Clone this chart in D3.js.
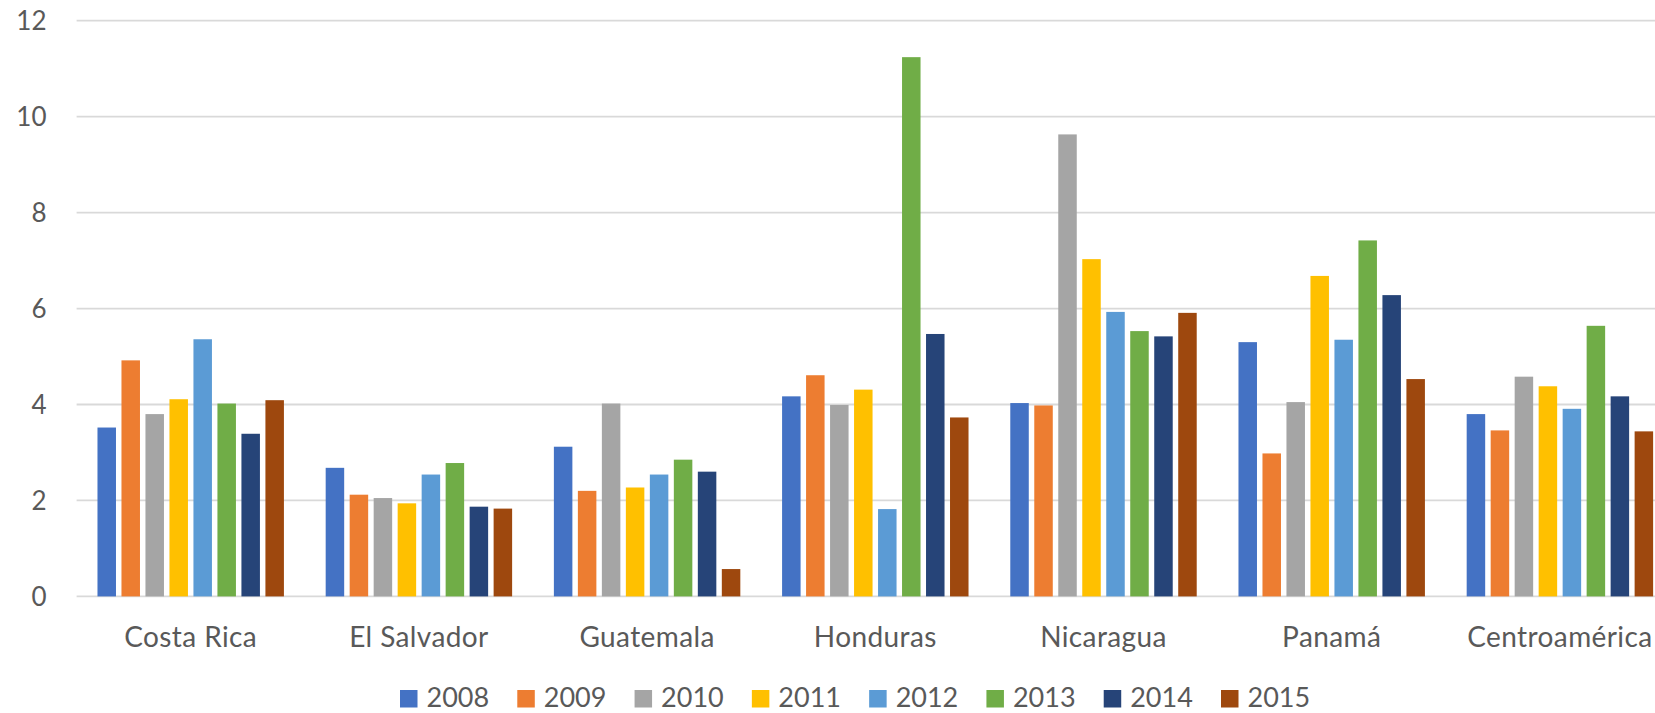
<!DOCTYPE html>
<html><head><meta charset="utf-8">
<script src="https://cdn.jsdelivr.net/npm/d3@7"></script>
<style>body{margin:0;background:#fff;} svg{display:block;}</style>
</head><body>
<svg id="c" width="1655" height="713"></svg>
<script>
const categories = ["Costa Rica","El Salvador","Guatemala","Honduras","Nicaragua","Panamá","Centroamérica"];
const years = ["2008","2009","2010","2011","2012","2013","2014","2015"];
const colors = ["#4472C4","#ED7D31","#A5A5A5","#FFC000","#5B9BD5","#70AD47","#264478","#9E480E"];
const v2008 = [3.52, 2.68, 3.12, 4.17, 4.03, 5.30, 3.80];
const v2009 = [4.92, 2.12, 2.20, 4.61, 3.98, 2.98, 3.46];
const v2010 = [3.80, 2.05, 4.02, 3.99, 9.63, 4.05, 4.58];
const v2011 = [4.11, 1.94, 2.27, 4.31, 7.03, 6.68, 4.38];
const v2012 = [5.36, 2.54, 2.54, 1.82, 5.93, 5.35, 3.91];
const v2013 = [4.02, 2.78, 2.85, 11.24, 5.53, 7.42, 5.64];
const v2014 = [3.39, 1.87, 2.60, 5.47, 5.42, 6.28, 4.17];
const v2015 = [4.09, 1.83, 0.57, 3.73, 5.91, 4.53, 3.44];
const yTicks = [0,2,4,6,8,10,12];

const series = [v2008,v2009,v2010,v2011,v2012,v2013,v2014,v2015];
const svg = d3.select("#c");
const font = "Lato, 'Open Sans', sans-serif";
const textColor = "#595959";

const left = 76.6, step = 228.2;
const x0 = d3.scaleBand().domain(categories).range([left, left + step*categories.length])
  .paddingInner(0.183).paddingOuter(0.0915);
const x1 = d3.scaleBand().domain(years).range([0, x0.bandwidth()]).paddingInner(0.229).paddingOuter(0);
const y = d3.scaleLinear().domain([0,12]).range([596.4, 20.7]);

// gridlines
svg.append("g").selectAll("line").data(yTicks).join("line")
  .attr("x1", left).attr("x2", 1655)
  .attr("y1", d=>y(d)).attr("y2", d=>y(d))
  .attr("stroke", "#D9D9D9").attr("stroke-width", 1.8);

// y labels
svg.append("g").selectAll("text").data(yTicks).join("text")
  .attr("x", 46.5).attr("y", d=>y(d)).attr("dy","0.36em")
  .attr("text-anchor","end").attr("font-family",font).attr("font-size",26)
  .attr("fill",textColor).text(d=>d);

// bars
const g = svg.append("g");
categories.forEach((c, ci) => {
  years.forEach((yr, yi) => {
    const val = series[yi][ci];
    g.append("rect")
      .attr("x", x0(c) + x1(yr))
      .attr("width", x1.bandwidth())
      .attr("y", y(val))
      .attr("height", y(0) - y(val))
      .attr("fill", colors[yi]);
  });
});

// category labels
svg.append("g").selectAll("text").data(categories).join("text")
  .attr("x", d=>x0(d)+x0.bandwidth()/2).attr("y", 647)
  .attr("text-anchor","middle").attr("font-family",font).attr("font-size",28)
  .attr("letter-spacing", 0.4)
  .attr("fill",textColor).text(d=>d)
  .each(function(){
    const b = this.getBBox();
    if (b.x + b.width > 1654) {
      d3.select(this).attr("x", +d3.select(this).attr("x") - (b.x + b.width - 1654));
    }
  });

// legend
const lg = svg.append("g");
const legX = d3.scaleLinear().domain([0,7]).range([400, 1221]);
years.forEach((yr, i) => {
  lg.append("rect").attr("x", legX(i)).attr("y", 690).attr("width", 17.5).attr("height", 17.5).attr("fill", colors[i]);
  lg.append("text").attr("x", legX(i)+26.5).attr("y", 707)
    .attr("font-family",font).attr("font-size",27).attr("fill",textColor).text(yr);
});
</script>
</body></html>
